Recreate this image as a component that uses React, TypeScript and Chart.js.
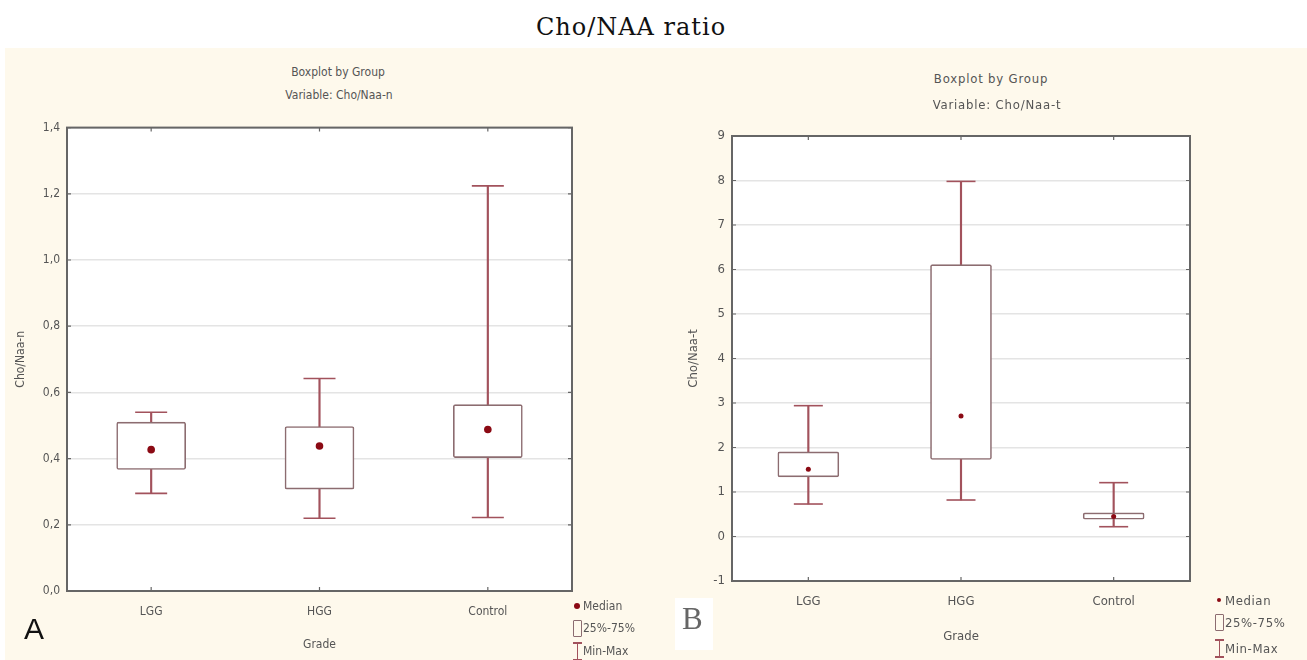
import React, { useEffect, useRef } from 'react';
import { Chart, registerables } from 'chart.js';

Chart.register(...registerables);

// ---------- data ----------
const categories = ['LGG', 'HGG', 'Control'];

// Panel A: Variable Cho/Naa-n
const nMin = [0.295, 0.22, 0.222];
const nQ1 = [0.367, 0.308, 0.403];
const nMedian = [0.427, 0.438, 0.488];
const nQ3 = [0.51, 0.497, 0.563];
const nMax = [0.54, 0.642, 1.224];
const nAxis = { min: 0, max: 1.4, step: 0.2 };

// Panel B: Variable Cho/Naa-t
const tMin = [0.73, 0.82, 0.22];
const tQ1 = [1.34, 1.73, 0.39];
const tMedian = [1.51, 2.71, 0.45];
const tQ3 = [1.9, 6.11, 0.53];
const tMax = [2.94, 7.98, 1.21];
const tAxis = { min: -1, max: 9, step: 1 };

// ---------- styles ----------
const BOX = '#8c6c70';
const WHISKER = '#a2525c';
const MEDIAN = '#8b0a14';
const FRAME = '#666666';
const GRID = '#e4e4e4';
const TEXT = '#555555';
const NARROW = '"Liberation Sans Narrow", "DejaVu Sans Condensed", "Liberation Sans", Arial, sans-serif';

const framePlugin = {
  id: 'frame',
  beforeDraw(chart: any) {
    const { ctx, chartArea: a } = chart;
    ctx.save();
    ctx.fillStyle = '#ffffff';
    ctx.fillRect(a.left, a.top, a.right - a.left, a.bottom - a.top);
    ctx.restore();
  },
  afterDraw(chart: any) {
    const { ctx, chartArea: a, scales } = chart;
    ctx.save();
    ctx.strokeStyle = FRAME;
    ctx.lineWidth = 1.2;
    const y = scales.y;
    const x = scales.x;
    y.ticks.forEach((t: any) => {
      const py = y.getPixelForValue(t.value);
      ctx.beginPath();
      ctx.moveTo(a.left, py);
      ctx.lineTo(a.left + 4, py);
      ctx.moveTo(a.right, py);
      ctx.lineTo(a.right - 4, py);
      ctx.stroke();
    });
    x.ticks.forEach((t: any, i: number) => {
      const px = x.getPixelForTick(i);
      ctx.beginPath();
      ctx.moveTo(px, a.top);
      ctx.lineTo(px, a.top + 4);
      ctx.moveTo(px, a.bottom);
      ctx.lineTo(px, a.bottom - 4);
      ctx.stroke();
    });
    ctx.lineWidth = 2;
    ctx.strokeRect(a.left, a.top, a.right - a.left, a.bottom - a.top);
    ctx.restore();
  },
};

type Params = {
  min: number[]; q1: number[]; med: number[]; q3: number[]; max: number[];
  axis: { min: number; max: number; step: number };
  yTitle: string;
  comma: boolean;
  boxWidth: number; capRadius: number; medRadius: number;
  padding: { top: number; right: number; bottom: number; left: number };
  yWidth: number; xHeight: number;
  yTitlePad: number; xTitlePad: number; xTickPad: number;
  fontSize: number;
};

function makeConfig(p: Params): any {
  const font = { family: NARROW, size: p.fontSize };
  return {
    type: 'bar',
    data: {
      labels: categories,
      datasets: [
        {
          type: 'line', label: 'Median', data: p.med, showLine: false,
          pointStyle: 'circle', pointRadius: p.medRadius, pointBackgroundColor: MEDIAN,
          pointBorderWidth: 0, order: 0,
        },
        {
          type: 'bar', label: 'Box', data: p.q1.map((v, i) => [v, p.q3[i]]),
          backgroundColor: '#ffffff', borderColor: BOX, borderWidth: 1.6,
          borderSkipped: false, borderRadius: 2, barThickness: p.boxWidth, grouped: false, order: 1,
        },
        {
          type: 'bar', label: 'Whisker', data: p.min.map((v, i) => [v, p.max[i]]),
          backgroundColor: WHISKER, borderWidth: 0, barThickness: 1.5, grouped: false, order: 2,
        },
        {
          type: 'line', label: 'Max', data: p.max, showLine: false, pointStyle: 'line',
          pointRadius: p.capRadius, pointBorderColor: WHISKER, pointBorderWidth: 1.6, order: 3,
        },
        {
          type: 'line', label: 'Min', data: p.min, showLine: false, pointStyle: 'line',
          pointRadius: p.capRadius, pointBorderColor: WHISKER, pointBorderWidth: 1.6, order: 3,
        },
      ],
    },
    options: {
      animation: false,
      responsive: false,
      devicePixelRatio: 1,
      layout: { padding: p.padding },
      plugins: { legend: { display: false }, tooltip: { enabled: false }, title: { display: false } },
      scales: {
        x: {
          type: 'category',
          offset: true,
          grid: { display: false, drawTicks: false },
          border: { display: false },
          ticks: { color: TEXT, font, padding: p.xTickPad },
          title: { display: true, text: 'Grade', color: TEXT, font, padding: { top: 0, bottom: p.xTitlePad } },
          afterFit: (s: any) => { s.height = p.xHeight; },
        },
        y: {
          min: p.axis.min, max: p.axis.max,
          grid: { color: GRID, lineWidth: 1.5, drawTicks: false },
          border: { display: false },
          ticks: {
            stepSize: p.axis.step, color: TEXT, font, padding: 7,
            callback: (v: any) => (p.comma ? Number(v).toFixed(1).replace('.', ',') : String(Math.round(Number(v)))),
          },
          title: { display: true, text: p.yTitle, color: TEXT, font, padding: { top: p.yTitlePad, bottom: 0 } },
          afterFit: (s: any) => { s.width = p.yWidth; },
        },
      },
    },
    plugins: [framePlugin],
  };
}

function BoxChart({ params, width, height }: { params: Params; width: number; height: number }) {
  const ref = useRef<HTMLCanvasElement>(null);
  useEffect(() => {
    const chart = new Chart(ref.current as HTMLCanvasElement, makeConfig(params));
    return () => chart.destroy();
  }, []);
  return <canvas ref={ref} width={width} height={height} style={{ width, height, display: 'block' }} />;
}

const paramsA: Params = {
  min: nMin, q1: nQ1, med: nMedian, q3: nQ3, max: nMax, axis: nAxis,
  yTitle: 'Cho/Naa-n', comma: true,
  boxWidth: 69, capRadius: 16, medRadius: 3.8,
  padding: { top: 12, right: 48, bottom: 0, left: 0 },
  yWidth: 67, xHeight: 69, yTitlePad: 14, xTitlePad: 8, xTickPad: 14, fontSize: 12,
};

const paramsB: Params = {
  min: tMin, q1: tQ1, med: tMedian, q3: tQ3, max: tMax, axis: tAxis,
  yTitle: 'Cho/Naa-t', comma: false,
  boxWidth: 61, capRadius: 14.5, medRadius: 2.5,
  padding: { top: 26, right: 117, bottom: 0, left: 0 },
  yWidth: 92, xHeight: 79, yTitlePad: 46, xTitlePad: 16, xTickPad: 13, fontSize: 13,
};

const txt = (extra: React.CSSProperties): React.CSSProperties => ({
  position: 'absolute', fontFamily: NARROW, color: TEXT, whiteSpace: 'nowrap', lineHeight: 1, ...extra,
});

function LegendItems({ x, y, size, spacing, dot }: { x: number; y: number[]; size: number; spacing: number; dot: number }) {
  return (
    <>
      <div style={{ position: 'absolute', left: x - dot / 2, top: y[0] - dot / 2, width: dot, height: dot, borderRadius: '50%', background: MEDIAN }} />
      <div style={txt({ left: x + 6, top: y[0] - size / 2, fontSize: size, letterSpacing: spacing })}>Median</div>
      <div style={{ position: 'absolute', left: x - 4, top: y[1] - 8, width: 7, height: 15, border: `1.3px solid ${BOX}`, borderRadius: 1 }} />
      <div style={txt({ left: x + 6, top: y[1] - size / 2, fontSize: size, letterSpacing: spacing })}>25%-75%</div>
      <div style={{ position: 'absolute', left: x - 4, top: y[2] - 9, width: 9, height: 1.5, background: WHISKER }} />
      <div style={{ position: 'absolute', left: x - 0.5, top: y[2] - 9, width: 1.5, height: 18, background: WHISKER }} />
      <div style={{ position: 'absolute', left: x - 4, top: y[2] + 8, width: 9, height: 1.5, background: WHISKER }} />
      <div style={txt({ left: x + 6, top: y[2] - size / 2, fontSize: size, letterSpacing: spacing })}>Min-Max</div>
    </>
  );
}

export default function App() {
  return (
    <div style={{ position: 'fixed', left: 0, top: 0, width: 1307, height: 660, background: '#ffffff', overflow: 'hidden' }}>
      <div style={{ position: 'absolute', left: 5, top: 48, width: 1302, height: 612, background: '#fef9ec' }} />
      <div style={{ position: 'absolute', left: 0, top: 12, width: 1262, textAlign: 'center', fontFamily: '"DejaVu Serif", "Liberation Serif", serif', fontSize: 24, letterSpacing: 1, color: '#111', lineHeight: '30px' }}>
        Cho/NAA ratio
      </div>

      <div style={{ position: 'absolute', left: 0, top: 110 }}>
        <BoxChart params={paramsA} width={620} height={550} />
      </div>
      <div style={{ position: 'absolute', left: 640, top: 110 }}>
        <BoxChart params={paramsB} width={667} height={550} />
      </div>

      <div style={txt({ left: 0, width: 676, top: 66, fontSize: 12, textAlign: 'center' })}>Boxplot by Group</div>
      <div style={txt({ left: 0, width: 678, top: 89, fontSize: 12, textAlign: 'center' })}>Variable: Cho/Naa-n</div>
      <div style={txt({ left: 691, width: 600, top: 72, fontSize: 13, textAlign: 'center', letterSpacing: 0.8 })}>Boxplot by Group</div>
      <div style={txt({ left: 697, width: 600, top: 98, fontSize: 13, textAlign: 'center', letterSpacing: 0.8 })}>Variable: Cho/Naa-t</div>

      <LegendItems x={577} y={[606, 628, 651]} size={12} spacing={0} dot={6} />
      <LegendItems x={1219} y={[600, 622, 648]} size={13} spacing={0.6} dot={4} />

      <div style={{ position: 'absolute', left: 24, top: 614, fontFamily: '"Liberation Sans", Arial, sans-serif', fontSize: 30, color: '#111', lineHeight: 1 }}>A</div>
      <div style={{ position: 'absolute', left: 675, top: 598, width: 38, height: 52, background: '#ffffff' }} />
      <div style={{ position: 'absolute', left: 682, top: 603, fontFamily: '"Liberation Serif", serif', fontSize: 31, color: '#666', lineHeight: 1 }}>B</div>
    </div>
  );
}
